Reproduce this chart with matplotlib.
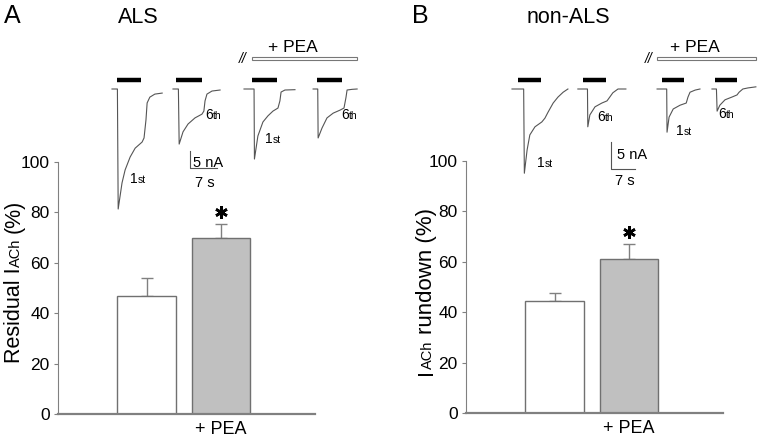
import matplotlib.pyplot as plt
from matplotlib.patches import Rectangle

plt.rcParams['font.family'] = ['Liberation Sans', 'DejaVu Sans']

W, H = 758, 441

# bar data (% of first response), mean and s.e.m.
als_mean = [46.7, 70.0]
als_sem = [7.4, 5.2]
non_mean = [44.4, 61.0]
non_sem = [3.1, 5.9]
bar_labels = ['', '+ PEA']
bar_colors = ['white', '#c0c0c0']

# current traces: time (s) and current (nA), 1st and 6th response, control and + PEA
als_t1 = [0, 1.4, 1.6, 2.6, 3.4, 4.7, 6.0, 7.8, 8.3, 8.8, 9.1, 9.8, 11.1, 13.0]
als_i1 = [0, 0, -35.3, -27.6, -23.8, -20.0, -17.4, -15.6, -14.4, -9.1, -4.1, -2.4, -1.5, -1.2]
als_t6 = [0, 1.4, 1.6, 2.6, 3.9, 5.7, 7.5, 8.0, 8.3, 8.8, 10.1, 12.2]
als_i6 = [0, 0, -16.2, -12.6, -10.3, -8.5, -7.4, -6.5, -3.5, -1.5, -0.6, -0.3]
als_t1p = [0, 2.6, 2.7, 3.6, 4.9, 6.2, 7.5, 8.8, 9.3, 9.6, 10.6, 13.2]
als_i1p = [0, 0, -20.6, -13.8, -9.7, -7.9, -6.5, -5.6, -3.5, -0.9, -0.3, -0.2]
als_t6p = [0, 1.2, 1.3, 2.3, 3.6, 5.2, 7.0, 8.0, 8.5, 8.8, 10.1, 11.4]
als_i6p = [0, 0, -14.4, -11.5, -8.5, -7.1, -6.2, -5.6, -2.6, -0.3, -0.1, 0]
als_onset = [0, 15.8, 34.2, 52.1]
als_stim = [(1.3, 7.5), (0.8, 7.5), (2.1, 8.6), (1.0, 7.5)]
als_pea = (36.3, 63.5)

non_t1 = [0, 3.4, 3.6, 4.4, 5.2, 6.7, 8.7, 9.6, 10.5, 12.0, 13.4, 14.9, 16.3]
non_i1 = [0, 0, -15.6, -11.3, -8.5, -7.0, -6.1, -5.4, -4.3, -2.6, -1.5, -0.6, 0]
non_t6 = [0, 2.8, 2.9, 3.5, 5.0, 7.0, 8.5, 9.3, 10.2, 11.7, 14.0]
non_i6 = [0, 0, -7.0, -4.8, -3.3, -2.6, -2.2, -1.5, -0.7, 0, 0]
non_t1p = [0, 2.8, 2.9, 3.5, 4.7, 6.7, 8.5, 9.0, 9.6, 11.1, 12.5]
non_i1p = [0, 0, -8.0, -5.2, -3.7, -3.0, -2.6, -1.5, -0.6, -0.2, 0]
non_t6p = [0, 1.3, 1.5, 2.3, 3.8, 5.8, 7.3, 7.9, 9.0, 10.5, 12.8]
non_i6p = [0, 0, -4.1, -3.0, -2.0, -1.5, -1.1, -0.6, 0, 0.2, 0.4]
non_onset = [0, 19.2, 42.3, 58.3]
non_stim = [(1.7, 8.5), (1.5, 8.2), (1.5, 7.9), (0.9, 7.3)]
non_pea = (42.3, 71.1)

scale_na = 5
scale_s = 7

fig = plt.figure(figsize=(W / 100, H / 100), dpi=100)
rend = fig.canvas.get_renderer()


def rich(x, y, parts, rot=0, style='normal'):
    # parts of text on one baseline, x/y in pixels from top-left; a number = gap in px
    for p in parts:
        if not isinstance(p, tuple):
            if rot == 0:
                x += p
            else:
                y -= p
            continue
        s, size = p
        t = fig.text(x / W, 1 - y / H, s, fontsize=size, rotation=rot, style=style,
                     rotation_mode='anchor', ha='left', va='baseline')
        bb = t.get_window_extent(renderer=rend)
        if rot == 0:
            x += bb.width
        else:
            y -= bb.height


def bar_panel(left, bottom, means, sems):
    ax = fig.add_axes([left / W, 1 - bottom / H, 257 / W, 252 / H])
    x = [0, 1]
    ax.bar(x, means, width=0.785, color=bar_colors, edgecolor='#707070', lw=1, zorder=2)
    ax.errorbar(x, means, yerr=[[0, 0], sems], fmt='none', ecolor='#808080',
                elinewidth=1, capsize=4, capthick=1, zorder=1)
    ax.plot(1, means[1] + sems[1] + 4.8, marker=(6, 2, 0), ms=9, mew=1.9, color='black')
    ax.set_xlim(-1.19, 2.26)
    ax.set_ylim(0, 100)
    ax.set_yticks([0, 20, 40, 60, 80, 100])
    ax.set_xticks(x)
    ax.set_xticklabels(bar_labels, fontsize=13)
    ax.tick_params(axis='x', length=0, pad=5)
    ax.tick_params(axis='y', length=3, color='#808080', labelsize=12.5, pad=3)
    for s in ['top', 'right']:
        ax.spines[s].set_visible(False)
    ax.spines['left'].set_color('#808080')
    ax.spines['bottom'].set_color('#808080')
    ax.spines['bottom'].set_linewidth(1.6)
    return ax


def trace_panel(left, top, right, bottom, x0, y0, sx, sy, traces, onset, stim, stim_lvl, pea, pea_lvl, bar_xy):
    ax = fig.add_axes([left / W, 1 - bottom / H, (right - left) / W, (bottom - top) / H])
    ax.set_xlim((left - x0) / sx, (right - x0) / sx)
    ax.set_ylim(-(bottom - y0) / sy, (y0 - top) / sy)
    ax.axis('off')
    for (tt, ii), t0, (s0, s1) in zip(traces, onset, stim):
        ax.plot([t + t0 for t in tt], ii, color='#555555', lw=0.8, clip_on=False)
        ax.plot([t0 + s0, t0 + s1], [stim_lvl, stim_lvl], color='black', lw=3.2,
                solid_capstyle='butt', clip_on=False)
    h = 3 / sy
    ax.add_patch(Rectangle((pea[0], pea_lvl - h / 2), pea[1] - pea[0], h,
                           facecolor='white', edgecolor='#777777', lw=0.8, clip_on=False))
    bx, by = bar_xy
    ax.plot([bx, bx, bx + scale_s], [by + scale_na, by, by], color='#555555', lw=0.8)
    return ax


axA = bar_panel(58, 414, als_mean, als_sem)
axB = bar_panel(466, 413, non_mean, non_sem)

trace_panel(100, 25, 400, 235, 112, 89, 3.86, 3.4,
            [(als_t1, als_i1), (als_t6, als_i6), (als_t1p, als_i1p), (als_t6p, als_i6p)],
            als_onset, als_stim, 2.65, als_pea, 9.0, (20.2, -23.2))
trace_panel(500, 25, 758, 235, 512, 89, 3.43, 5.4,
            [(non_t1, non_i1), (non_t6, non_i6), (non_t1p, non_i1p), (non_t6p, non_i6p)],
            non_onset, non_stim, 1.7, non_pea, 5.65, (28.9, -14.8))

# titles
rich(4, 23, [('A', 18)])
rich(118, 23, [('ALS', 15.5)])
rich(412, 23, [('B', 18)])
rich(527, 23, [('non-ALS', 15.5)])

# + PEA over the traces
rich(268, 52, [('+ PEA', 12.5)])
rich(239, 63, [('//', 10)], style='italic')
rich(670, 52, [('+ PEA', 12.5)])
rich(645, 63, [('//', 10)], style='italic')

# response numbers
for x, y, n, sfx in [(130, 183, '1', 'st'), (205, 119, '6', 'th'), (265, 143, '1', 'st'),
                     (341, 119, '6', 'th'), (537, 167, '1', 'st'), (597, 121, '6', 'th'),
                     (676, 135, '1', 'st'), (718, 118, '6', 'th')]:
    rich(x, y, [(n, 10), (sfx, 7.5)])

# scale bar labels
rich(193, 167, [('5 nA', 10.5)])
rich(195, 187, [('7 s', 10.5)])
rich(617, 159, [('5 nA', 10.5)])
rich(615, 185, [('7 s', 10.5)])

# y labels
rich(20, 363, [('Residual I', 15.5), ('ACh', 10.5), 6, ('(%)', 15.5)], rot=90)
rich(432, 375, [('I', 15.5), ('ACh', 10.5), 7, ('rundown (%)', 16)], rot=90)

fig.savefig('out.png', dpi=100)
